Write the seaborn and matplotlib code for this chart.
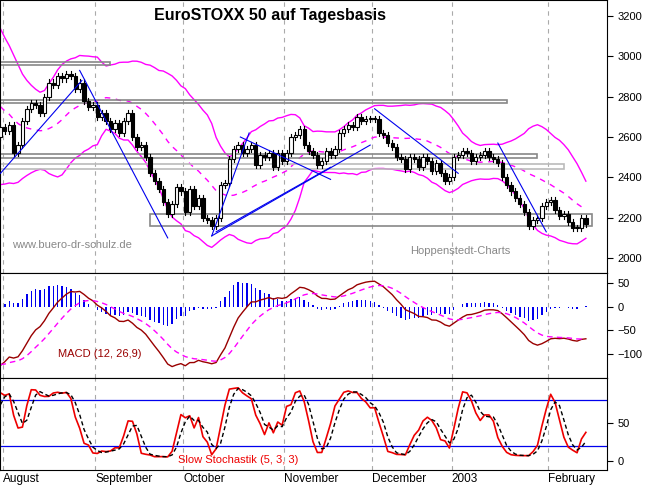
import numpy as np
import pandas as pd
import matplotlib
matplotlib.use("Agg")
import matplotlib.pyplot as plt
import seaborn as sns

plt.rcParams["font.family"] = "Liberation Sans"

# July 2002 history (only used for indicators, off-screen)
prehistory = [3100, 3080, 3050, 3000, 3020, 2980, 2950, 2900, 2880, 2850, 2800,
              2760, 2700, 2640, 2600, 2520, 2450, 2480, 2560, 2620, 2600, 2650]
# Daily closes Aug 2002 - Feb 2003
closes = [2630, 2660, 2520, 2560, 2680, 2740, 2770, 2760, 2720, 2800, 2870, 2860, 2900,
          2890, 2910, 2900, 2840, 2870, 2780, 2750, 2760, 2700, 2720, 2680, 2640, 2670,
          2620, 2680, 2720, 2600, 2550, 2560, 2500, 2420, 2380, 2340, 2280, 2220, 2270,
          2350, 2330, 2230, 2340, 2260, 2300, 2200, 2190, 2160, 2200, 2360, 2370, 2490,
          2540, 2560, 2520, 2540, 2560, 2460, 2510, 2500, 2520, 2450, 2520, 2480, 2520,
          2600, 2610, 2640, 2560, 2530, 2510, 2460, 2480, 2530, 2510, 2540, 2620, 2640,
          2660, 2650, 2700, 2680, 2690, 2690, 2690, 2620, 2610, 2570, 2550, 2500, 2490,
          2440, 2500, 2490, 2450, 2500, 2480, 2430, 2470, 2420, 2380, 2400, 2500, 2510,
          2530, 2520, 2480, 2500, 2510, 2530, 2500, 2490, 2470, 2400, 2360, 2330, 2300,
          2270, 2230, 2160, 2190, 2200, 2260, 2280, 2290, 2240, 2210, 2220, 2180, 2150,
          2150, 2200, 2170]
month_labels = ["August", "September", "October", "November", "December", "2003", "February"]
month_starts = [0, 21, 41, 64, 84, 102, 124]
price_ticks = [2000, 2200, 2400, 2600, 2800, 3000, 3200]

allc = pd.Series(prehistory + closes, dtype=float)
n0 = len(prehistory)
idx = np.arange(len(allc)) - n0
opens = allc.shift(1).fillna(allc.iloc[0])
wick = 15.0
highs = np.maximum(opens, allc) + wick
lows = np.minimum(opens, allc) - wick

ma = allc.rolling(20).mean()
sd = allc.rolling(20).std()
up, lo = ma + 2 * sd, ma - 2 * sd
ema12 = allc.ewm(span=12, adjust=False).mean()
ema26 = allc.ewm(span=26, adjust=False).mean()
macd = ema12 - ema26
sig = macd.ewm(span=9, adjust=False).mean()
histo = macd - sig
hh = pd.Series(highs).rolling(5).max()
ll = pd.Series(lows).rolling(5).min()
fastk = 100 * (allc - ll) / (hh - ll)
slowk = fastk.rolling(3).mean()
slowd = slowk.rolling(3).mean()

df = pd.DataFrame({"i": idx, "c": allc, "o": opens, "h": highs, "l": lows, "ma": ma, "up": up,
                   "lo": lo, "macd": macd, "sig": sig, "histo": histo, "k": slowk, "d": slowd})
vis = df[df.i >= -1]

fig = plt.figure(figsize=(6.62, 4.86), dpi=100)
W = 607 / 662
ax1 = fig.add_axes([0, 1 - 273 / 486, W, 273 / 486])
ax2 = fig.add_axes([0, 1 - 378 / 486, W, 105 / 486], sharex=ax1)
ax3 = fig.add_axes([0, 1 - 470 / 486, W, 92 / 486], sharex=ax1)
xl = (-1.1, 136.8)

# main panel
for _, r in vis.iterrows():
    ax1.plot([r["i"], r["i"]], [r["l"], r["h"]], color="black", lw=0.8, zorder=3)
    bot = min(r["o"], r["c"]); ht = max(abs(r["c"] - r["o"]), 3)
    ax1.bar(r["i"], ht, bottom=bot, width=0.75, color="white" if r["c"] >= r["o"] else "black",
            edgecolor="black", lw=0.8, zorder=4)
sns.lineplot(data=vis, x="i", y="up", ax=ax1, color="#ff00ff", lw=1)
sns.lineplot(data=vis, x="i", y="lo", ax=ax1, color="#ff00ff", lw=1)
sns.lineplot(data=vis, x="i", y="ma", ax=ax1, color="#ff00ff", lw=1)
ax1.lines[-1].set_linestyle((0, (4, 4)))
# support zones
for x0, x1, y0, y1, c in [(-1.1, 24, 2955, 2970, "#888888"), (-1.1, 114, 2770, 2785, "#888888"),
                          (-1.1, 121, 2495, 2515, "#888888"), (-1.1, 127, 2440, 2465, "#bbbbbb"),
                          (33, 133.5, 2160, 2220, "#888888")]:
    ax1.add_patch(plt.Rectangle((x0, y0), x1 - x0, y1 - y0, fill=False, ec=c, lw=1.2, zorder=2))
for (a, b), (c, d) in [((-1, 2420), (17.5, 2880)), ((17, 2930), (37, 2100)),
                       ((47, 2110), (55.5, 2620)), ((53.5, 2600), (74, 2390)),
                       ((48, 2130), (74, 2450)), ((47, 2110), (83, 2560)),
                       ((84, 2740), (103, 2420)), ((112, 2570), (123, 2130))]:
    ax1.plot([a, c], [b, d], color="#0000ee", lw=0.8, zorder=5)
ax1.set_ylim(1926, 3279)
ax1.text(270 / 607, 0.925, "EuroSTOXX 50 auf Tagesbasis", transform=ax1.transAxes, ha="center",
         fontsize=11.5, fontweight="bold")
ax1.text(12 / 607, 0.09, "www.buero-dr-schulz.de", transform=ax1.transAxes, color="#888888", fontsize=8)
ax1.text(410 / 607, 0.07, "Hoppenstedt-Charts", transform=ax1.transAxes, color="#888888", fontsize=8)

# MACD
ax2.bar(vis["i"], vis["histo"], width=0.3, color="#0000ee")
sns.lineplot(data=vis, x="i", y="macd", ax=ax2, color="#990000", lw=1)
sns.lineplot(data=vis, x="i", y="sig", ax=ax2, color="#ff00ff", lw=1)
ax2.lines[-1].set_linestyle((0, (4, 3)))
ax2.set_ylim(-151, 71)
ax2.set_yticks([-100, -50, 0, 50])
ax2.text(58 / 607, 0.2, "MACD (12, 26,9)", transform=ax2.transAxes, color="#990000", fontsize=8)

# Stochastic
ax3.axhline(80, color="#0000ee", lw=0.9)
ax3.axhline(20, color="#0000ee", lw=0.9)
sns.lineplot(data=vis, x="i", y="k", ax=ax3, color="#ee0000", lw=1.2)
sns.lineplot(data=vis, x="i", y="d", ax=ax3, color="black", lw=1)
ax3.lines[-1].set_linestyle((0, (3, 2)))
ax3.set_ylim(-12, 109)
ax3.set_yticks([0, 50])
ax3.text(178 / 607, 0.08, "Slow Stochastik (5, 3, 3)", transform=ax3.transAxes, color="#ee0000", fontsize=8)

for ax in (ax1, ax2, ax3):
    ax.set_xlim(*xl)
    ax.set_xlabel(""); ax.set_ylabel("")
    for m in month_starts:
        ax.axvline(m - 0.5, color="#aaaaaa", lw=0.8, ls=(0, (4, 4)), zorder=0)
    ax.yaxis.tick_right()
    ax.tick_params(axis="y", labelsize=8, length=4, direction="out")
    ax.tick_params(axis="x", length=0)
    for s in ax.spines.values():
        s.set_linewidth(0.8)
ax1.set_yticks(price_ticks)
plt.setp(ax1.get_xticklabels(), visible=False)
plt.setp(ax2.get_xticklabels(), visible=False)
ax3.set_xticks([m - 0.5 for m in month_starts])
ax3.set_xticklabels(month_labels, ha="left", fontsize=8.5)
ax3.tick_params(axis="x", pad=2)
fig.savefig("out.png", dpi=100)
